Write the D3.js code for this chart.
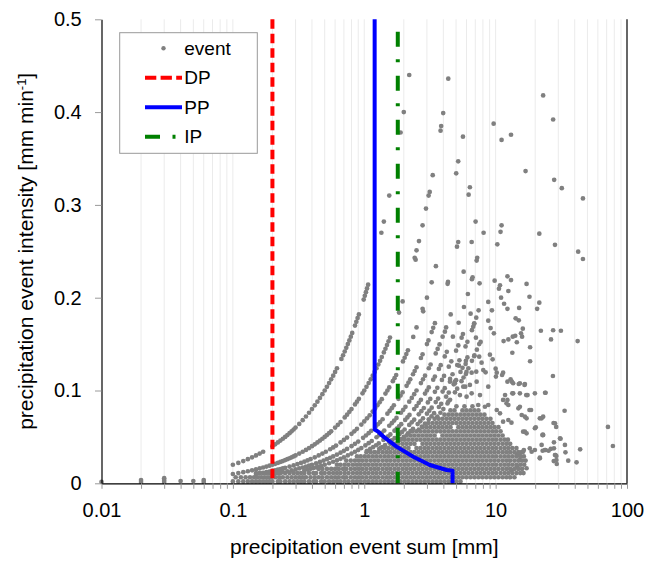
<!DOCTYPE html>
<html lang="en">
<head>
<meta charset="utf-8">
<title>Precipitation events</title>
<script src="https://cdn.jsdelivr.net/npm/d3@7/dist/d3.min.js"></script>
<style>
  body { margin: 0; background: #fff; }
  svg text { font-family: "Liberation Sans", Arial, Helvetica, sans-serif; fill: #000; }
</style>
</head>
<body>
<script>
// events as [sum mm, intensity mm/min]

// tiny events left of 0.1 mm
var eventSmall = [[0.01,0.0015],[0.02,0.0015],[0.02,0.0035],[0.03,0.0015],[0.03,0.0035],[0.03,0.0055],
  [0.04,0.0025],[0.05,0.0025],[0.06,0.0015],[0.06,0.0035]];

// the visible arcs (one per event duration)
var eventArc5 = [[0.10,0.020],[0.11,0.022],[0.12,0.024],[0.13,0.026],[0.14,0.028],[0.15,0.030],[0.16,0.032],[0.17,0.034],
  [0.20,0.040],[0.21,0.042],[0.22,0.044],[0.23,0.046],[0.24,0.048],[0.25,0.050],[0.26,0.052],[0.27,0.054],[0.28,0.056],[0.29,0.058],[0.30,0.060],
  [0.32,0.064],[0.34,0.068],[0.36,0.072],[0.38,0.076],[0.40,0.080],[0.42,0.084],[0.44,0.088],[0.46,0.092],[0.48,0.096],[0.50,0.100],
  [0.52,0.104],[0.54,0.108],[0.56,0.112],[0.58,0.116],[0.60,0.120],[0.62,0.124],
  [0.67,0.134],[0.69,0.138],[0.71,0.142],[0.73,0.146],[0.75,0.150],[0.77,0.154],[0.79,0.158],[0.81,0.162],
  [0.85,0.170],[0.87,0.174],[0.89,0.178],[0.91,0.182],[0.99,0.198],[1.01,0.202],[1.03,0.206],[1.05,0.210],[1.07,0.214],
  [1.35,0.270],[1.41,0.282],[1.55,0.310],[1.89,0.378],[2.00,0.400],[2.20,0.440]];

var eventArc10 = [[0.10,0.010],[0.11,0.011],[0.12,0.012],[0.13,0.013],[0.14,0.014],[0.15,0.015],[0.16,0.016],[0.17,0.017],[0.18,0.018],[0.19,0.019],
  [0.20,0.020],[0.21,0.021],[0.22,0.022],[0.23,0.023],[0.24,0.024],[0.25,0.025],[0.26,0.026],[0.27,0.027],[0.28,0.028],[0.29,0.029],[0.30,0.030],
  [0.32,0.032],[0.34,0.034],[0.36,0.036],[0.38,0.038],[0.40,0.040],[0.42,0.042],[0.44,0.044],[0.46,0.046],[0.48,0.048],[0.50,0.050],
  [0.52,0.052],[0.54,0.054],[0.56,0.056],[0.60,0.060],[0.63,0.063],[0.66,0.066],[0.71,0.071],[0.74,0.074],[0.77,0.077],[0.80,0.080],
  [0.85,0.085],[0.88,0.088],[0.91,0.091],[0.97,0.097],[1.00,0.100],[1.04,0.104],[1.08,0.108],[1.12,0.112],[1.16,0.116],[1.20,0.120],
  [1.24,0.124],[1.28,0.128],[1.32,0.132],[1.36,0.136],[1.41,0.141],[1.45,0.145],[1.49,0.149],[1.53,0.153],[1.57,0.157],
  [1.84,0.184],[1.96,0.196],[2.42,0.243],[2.46,0.241],[2.50,0.251],[2.61,0.261],[2.78,0.278],[2.95,0.296],[3.09,0.310],[3.15,0.314],
  [3.32,0.332],[3.81,0.380],[3.85,0.385],[3.99,0.399],[4.36,0.436]];

var eventArc15 = [[0.15,0.0100],[0.16,0.0107],[0.17,0.0113],[0.18,0.0120],[0.19,0.0127],[0.20,0.0133],[0.21,0.0140],[0.22,0.0147],[0.23,0.0153],
  [0.24,0.0160],[0.25,0.0167],[0.27,0.0180],[0.29,0.0193],[0.31,0.0207],[0.33,0.0220],[0.35,0.0233],[0.37,0.0247],[0.39,0.0260],[0.42,0.0280],
  [0.45,0.0300],[0.48,0.0320],[0.51,0.0340],[0.55,0.0367],[0.58,0.0387],[0.61,0.0407],[0.66,0.0440],[0.70,0.0467],[0.74,0.0493],
  [0.80,0.0533],[0.84,0.0560],[0.88,0.0587],[0.95,0.0633],[1.00,0.0667],[1.05,0.0700],[1.10,0.0733],[1.16,0.0773],[1.21,0.0807],
  [1.26,0.0840],[1.31,0.0873],[1.36,0.0907],[1.45,0.0967],[1.50,0.1000],[1.55,0.1033],[1.65,0.1100],[1.70,0.1133],[1.75,0.1167],
  [1.97,0.1313],[2.03,0.1353],[2.09,0.1393],[2.15,0.1433],[2.36,0.1577],[2.50,0.1680],[2.78,0.1880],[2.81,0.1853],[3.00,0.2000],
  [3.26,0.2166],[3.51,0.2340],[5.01,0.3340]];

var eventArc20 = [[0.20,0.0100],[0.21,0.0105],[0.22,0.0110],[0.23,0.0115],[0.24,0.0120],[0.26,0.0130],[0.28,0.0140],[0.30,0.0150],[0.32,0.0160],
  [0.34,0.0170],[0.36,0.0180],[0.38,0.0190],[0.40,0.0200],[0.43,0.0215],[0.46,0.0230],[0.49,0.0245],[0.52,0.0260],[0.55,0.0275],[0.58,0.0290],
  [0.62,0.0310],[0.66,0.0330],[0.70,0.0350],[0.74,0.0370],[0.80,0.0400],[0.85,0.0425],[0.90,0.0450],[0.98,0.0490],[1.03,0.0515],[1.08,0.0540],
  [1.13,0.0565],[1.22,0.0610],[1.27,0.0635],[1.32,0.0660],[1.38,0.0690],[1.50,0.0750],[1.56,0.0780],[1.62,0.0810],[1.68,0.0840],
  [1.82,0.0910],[1.89,0.0945],[1.96,0.0980],[2.10,0.1050],[2.17,0.1085],[2.24,0.1120],[2.35,0.1175],[2.42,0.1210],[2.50,0.1250],
  [2.70,0.1350],[2.78,0.1390],[3.00,0.1500],[3.08,0.1540],[3.26,0.1630],[3.35,0.1675],[3.45,0.1725],[4.31,0.2150],[4.34,0.2170],
  [6.23,0.3110],[6.37,0.3190]];

var eventArc25 = [[0.35,0.0140],[0.37,0.0148],[0.39,0.0156],[0.41,0.0164],[0.43,0.0172],[0.45,0.0180],[0.47,0.0188],[0.50,0.0200],
  [0.54,0.0216],[0.58,0.0232],[0.62,0.0248],[0.66,0.0264],[0.70,0.0280],[0.75,0.0300],[0.80,0.0320],[0.85,0.0340],[0.90,0.0360],[0.95,0.0380],
  [1.02,0.0408],[1.08,0.0432],[1.14,0.0456],[1.24,0.0496],[1.30,0.0520],[1.36,0.0544],[1.42,0.0568],[1.55,0.0620],[1.62,0.0648],
  [1.69,0.0676],[1.76,0.0704],[1.90,0.0760],[1.98,0.0792],[2.06,0.0824],[2.20,0.0880],[2.30,0.0920],[2.40,0.0960],[2.50,0.1000],
  [2.70,0.1080],[2.80,0.1120],[2.90,0.1160],[3.10,0.1240],[3.20,0.1280],[3.50,0.1400],[3.62,0.1448],[3.74,0.1496],[3.95,0.1580],
  [4.11,0.1634],[4.20,0.1680],[4.55,0.1820]];

var eventArc30 = [[1.05,0.0350],[1.11,0.0370],[1.17,0.0390],[1.23,0.0410],[1.29,0.0430],[1.40,0.0467],[1.46,0.0487],[1.52,0.0507],[1.58,0.0527],
  [1.70,0.0567],[1.77,0.0590],[1.84,0.0613],[1.91,0.0637],[2.05,0.0683],[2.13,0.0710],[2.21,0.0737],[2.40,0.0800],[2.50,0.0833],
  [2.60,0.0867],[2.70,0.0900],[2.90,0.0967],[3.00,0.1000],[3.10,0.1033],[3.35,0.1117],[3.45,0.1150],[3.70,0.1233],[3.82,0.1273],
  [4.10,0.1367],[4.25,0.1417],[4.73,0.1580]];

var eventArc35 = [[1.30,0.0371],[1.37,0.0391],[1.44,0.0411],[1.55,0.0443],[1.62,0.0463],[1.70,0.0486],[1.85,0.0529],[1.94,0.0554],[2.03,0.0580],
  [2.20,0.0629],[2.30,0.0657],[2.40,0.0686],[2.60,0.0743],[2.72,0.0777],[2.84,0.0811],[3.05,0.0871],[3.18,0.0909],[3.45,0.0986],
  [3.60,0.1029],[3.90,0.1114],[4.05,0.1157],[4.40,0.1257],[4.60,0.1314],[5.00,0.1429],[5.20,0.1486],[5.51,0.1569],[5.64,0.1609]];

var eventArc40 = [[1.80,0.0450],[1.90,0.0475],[2.00,0.0500],[2.15,0.0538],[2.25,0.0563],[2.35,0.0588],[2.55,0.0638],[2.67,0.0668],[2.80,0.0700],
  [3.00,0.0750],[3.13,0.0783],[3.26,0.0815],[3.50,0.0875],[3.65,0.0913],[3.95,0.0988],[4.10,0.1025],[4.50,0.1125],[4.70,0.1175],
  [5.10,0.1275],[5.30,0.1325],[5.90,0.1475],[6.10,0.1525],[6.60,0.1650],[6.75,0.1688],[6.87,0.1718]];

var eventArc45 = [[2.60,0.0578],[2.75,0.0611],[2.90,0.0644],[3.10,0.0689],[3.25,0.0722],[3.40,0.0756],[3.70,0.0822],[3.85,0.0856],
  [4.20,0.0933],[4.40,0.0978],[4.80,0.1067],[5.00,0.1111],[5.40,0.1200],[5.60,0.1244],[5.94,0.1320],[6.10,0.1356]];

var eventArc50 = [[3.60,0.0720],[3.80,0.0760],[4.00,0.0800],[4.30,0.0860],[4.50,0.0900],[4.90,0.0980],[5.10,0.1020],[5.50,0.1100],
  [5.70,0.1140],[6.00,0.1200],[6.20,0.1240],[6.60,0.1320],[6.90,0.1380],[7.20,0.1440],[7.50,0.1500]];

// the dense cloud, row by row: one intensity and the sums found at it
var cloudIntensity = [0.002, 0.0065, 0.011, 0.0155, 0.020, 0.0245, 0.029, 0.0335, 0.038, 0.0425,
  0.047, 0.0515, 0.056, 0.0605, 0.065, 0.0695, 0.074, 0.0785, 0.083];
var cloudSums = [
  [0.10,0.11,0.12,0.13,0.14,0.15,0.16,0.17,0.18,0.19,0.20,0.22,0.23,0.25,0.27,0.29,0.31,0.33,0.35,0.38,0.41,0.43,0.47,0.50,0.54,0.58,0.62,0.66,0.71,0.76,0.82,0.88,0.94,1.01,1.08,1.16,1.24,1.33,1.43,1.53,1.64,1.76,1.89,2.03,2.17,2.33,2.50,2.68,2.88,3.08,3.31,3.55,3.80,4.08,4.38,4.69,5.03,5.40],
  [0.105,0.115,0.125,0.135,0.145,0.155,0.165,0.175,0.185,0.195,0.21,0.225,0.24,0.26,0.28,0.30,0.32,0.34,0.36,0.39,0.42,0.45,0.48,0.52,0.56,0.60,0.64,0.69,0.73,0.79,0.85,0.91,0.97,1.04,1.12,1.20,1.28,1.38,1.48,1.58,1.70,1.82,1.96,2.10,2.25,2.41,2.59,2.78,2.98,3.19,3.43,3.68,3.94,4.23,4.53,4.86,5.21,5.59,5.99,6.43,6.90,7.40,7.93,8.51,9.13,9.79,10.5,11.3,12.1,12.9,13.9],
  [0.15,0.16,0.17,0.18,0.19,0.20,0.22,0.23,0.25,0.27,0.29,0.31,0.33,0.35,0.38,0.41,0.43,0.47,0.50,0.54,0.58,0.62,0.66,0.71,0.76,0.82,0.88,0.94,1.01,1.08,1.16,1.24,1.33,1.43,1.53,1.64,1.76,1.89,2.03,2.17,2.33,2.50,2.68,2.88,3.08,3.31,3.55,3.80,4.08,4.38,4.69,5.03,5.40,5.79,6.21,6.66,7.15,7.66,8.22,8.82,9.46,10.1,10.9,11.7,12.5,13.4,14.4,15.4,16.3],
  [0.45,0.48,0.52,0.56,0.60,0.64,0.69,0.73,0.79,0.85,0.91,0.97,1.04,1.12,1.20,1.28,1.38,1.48,1.58,1.70,1.82,1.96,2.10,2.25,2.41,2.59,2.78,2.98,3.19,3.43,3.68,3.94,4.23,4.53,4.86,5.21,5.59,5.99,6.43,6.90,7.40,7.93,8.51,9.13,9.79,10.5,11.3,12.1,12.9,13.9,14.9,15.9],
  [0.62,0.66,0.71,0.76,0.82,0.88,0.94,1.01,1.08,1.16,1.24,1.33,1.43,1.53,1.64,1.76,1.89,2.03,2.17,2.33,2.50,2.68,2.88,3.08,3.31,3.55,3.80,4.08,4.38,4.69,5.03,5.40,5.79,6.21,6.66,7.15,7.66,8.22,8.82,9.46,10.1,10.9,11.7,12.5,13.4,14.4,15.4,16.5],
  [0.73,0.79,0.85,0.91,0.97,1.04,1.12,1.20,1.28,1.38,1.48,1.58,1.70,1.82,1.96,2.10,2.25,2.41,2.59,2.78,2.98,3.19,3.43,3.68,3.94,4.23,4.53,4.86,5.21,5.59,5.99,6.43,6.90,7.40,7.93,8.51,9.13,9.79,10.5,11.3,12.1,12.9,13.9,14.9,15.9,16.9],
  [0.88,0.94,1.01,1.08,1.16,1.24,1.33,1.43,1.53,1.64,1.76,1.89,2.03,2.17,2.33,2.50,2.68,2.88,3.08,3.31,3.55,3.80,4.08,4.38,4.69,5.03,5.40,5.79,6.21,6.66,7.15,7.66,8.22,8.82,9.46,10.1,10.9,11.7,12.5,13.4,14.4,15.4,16.4],
  [1.04,1.12,1.20,1.28,1.38,1.48,1.58,1.70,1.82,1.96,2.10,2.25,2.41,2.59,2.78,2.98,3.19,3.43,3.68,3.94,4.23,4.53,4.86,5.21,5.59,5.99,6.43,6.90,7.40,7.93,8.51,9.13,9.79,10.5,11.3,12.1,12.9,13.9,14.9,15.8],
  [1.33,1.43,1.53,1.64,1.76,1.89,2.03,2.17,2.50,2.68,2.88,3.08,3.31,3.55,3.80,4.08,4.38,4.69,5.03,5.40,5.79,6.21,6.66,7.15,7.66,8.22,8.82,9.46,10.1,10.9,11.7,12.5,13.4,14.4],
  [1.58,1.70,1.82,1.96,2.10,2.25,2.41,2.78,2.98,3.19,3.43,3.68,3.94,4.23,4.53,4.86,5.21,5.59,5.99,6.43,6.90,7.40,7.93,8.51,9.13,9.79,10.5,11.3,12.1,12.9],
  [1.89,2.03,2.17,2.33,2.50,2.68,2.88,3.08,3.31,3.55,3.80,4.08,4.38,4.69,5.03,5.40,5.79,6.21,6.66,7.15,7.66,8.22,8.82,9.46,10.1,10.9,11.7,12.4],
  [2.10,2.25,2.41,2.59,2.78,2.98,3.19,3.43,3.94,4.23,4.53,4.86,5.21,5.59,5.99,6.43,6.90,7.40,7.93,8.51,9.13,9.79,10.5,11.3],
  [2.33,2.50,2.68,2.88,3.08,3.31,3.55,3.80,4.08,4.38,4.69,5.03,5.40,5.79,6.21,6.66,7.15,7.66,8.22,8.82,9.46,10.1,10.9],
  [2.78,2.98,3.19,3.43,3.68,3.94,4.23,4.53,5.21,5.59,5.99,6.43,6.90,7.40,7.93,8.51,9.13,9.79,10.5],
  [3.08,3.31,3.55,3.80,4.08,4.38,4.69,5.03,5.40,5.79,6.21,6.66,7.15,7.66,8.22,8.82,9.46],
  [3.43,3.68,3.94,4.23,4.53,4.86,5.21,5.59,5.99,6.43,6.90,7.40,7.93,8.51,9.13],
  [4.08,4.38,4.69,5.03,5.40,5.79,6.21,6.66,7.15,7.66,8.22],
  [4.53,4.86,5.59,5.99,6.43,6.90,7.40],
  [5.03,5.79,6.66]
];

// loose events above and right of the cloud
var eventLoose = [[23.0,0.418],[9.66,0.3875],[27.4,0.392],[5.64,0.3735],[13.1,0.3756],[11.1,0.370],[5.19,0.347],[16.9,0.3365],
  [27.9,0.327],[31.9,0.318],[46.2,0.307],[7.04,0.282],[8.1,0.270],[11.1,0.278],[10.9,0.271],[21.5,0.269],[28.3,0.257],[5.19,0.260],
  [5.08,0.255],[6.57,0.260],[10.3,0.2575],[7.24,0.243],[7.17,0.240],[42.5,0.2496],[46.2,0.2417],[5.71,0.228],[6.68,0.222],[6.6,0.220],
  [12.3,0.223],[13.1,0.219],[7.55,0.2155],[9.83,0.2183],[10.8,0.2134],[10.6,0.2097],[17.2,0.2148],[12.5,0.2072],[6.15,0.204],[11.0,0.200],
  [18.1,0.201],[8.79,0.1954],[11.6,0.1935],[21.5,0.1946],[20.7,0.188],[5.74,0.190],[7.42,0.1864],[9.37,0.1864],[12.3,0.188],[15.1,0.189],
  [6.45,0.1828],[7.12,0.1785],[8.79,0.1752],[14.2,0.1778],[15.0,0.1756],[5.23,0.173],[6.87,0.1724],[9.16,0.1673],[22.1,0.1644],
  [27.4,0.1649],[31.4,0.1644],[9.7,0.1616],[16.1,0.1666],[15.6,0.1616],[15.9,0.158],[7.08,0.1569],[7.69,0.1523],[14.1,0.159],
  [13.5,0.158],[11.5,0.1533],[12.5,0.155],[14.5,0.152],[26.4,0.155],[42.1,0.1533],[18.3,0.1466],[13.4,0.1407],[6.87,0.137],[7.5,0.1364],
  [9.05,0.1386],[9.49,0.1336],[7.82,0.130],[18.3,0.1315],[5.91,0.1286],[5.26,0.1267],[10.0,0.1235],[8.05,0.122],[8.39,0.1196],
  [6.57,0.1192],[7.12,0.1203],[5.94,0.1178],[11.4,0.1192],[11.2,0.1167],[13.0,0.112],[27.3,0.1156],[10.2,0.1192],[10.05,0.115],
  [4.49,0.1095],[4.9,0.1078],[5.67,0.1041],[6.37,0.106],[7.17,0.1095],[8.79,0.1041],[12.3,0.1095],[13.6,0.1078],[15.3,0.1078],[16.7,0.107],
  [5.35,0.0951],[6.01,0.0933],[6.57,0.097],[7.6,0.0951],[11.8,0.0951],[12.3,0.0898],[13.6,0.097],[15.3,0.097],[17.5,0.0951],[19.9,0.097],
  [4.36,0.088],[7.37,0.0844],[8.29,0.0825],[8.79,0.0844],[10.2,0.079],[10.8,0.0754],[11.4,0.0898],[12.1,0.0862],[14.9,0.0808],[18.6,0.079],
  [15.8,0.0736],[16.7,0.0718],[11.4,0.0664],[12.5,0.0682],[13.2,0.0653],[22.4,0.070],[19.9,0.0593],[28.3,0.0647],[16.2,0.0556],[17.2,0.0539],
  [23.0,0.052],[30.9,0.0485],[22.4,0.0413],[23.7,0.0359],[19.9,0.0359],[18.8,0.034],[18.2,0.0377],[16.2,0.034],[15.3,0.0323],[14.5,0.0305],
  [21.7,0.0269],[28.3,0.0305],[29.0,0.0251],[17.2,0.0162],[15.3,0.0251],[14.5,0.0179],[13.2,0.0144],
  [24.0,0.0976],[33.5,0.0782],[23.0,0.0718],[21.7,0.070],[27.6,0.065],[28.9,0.0607],[22.9,0.0524],[31.2,0.048],[27.8,0.0442],[33.7,0.0413],
  [71.6,0.0607],[78.1,0.0402],[44.0,0.0366],[22.8,0.0351],[24.0,0.0359],[25.3,0.0351],[26.3,0.037],[27.8,0.0377],[34.0,0.0334],[21.7,0.0276],
  [28.6,0.0305],[29.0,0.0294],[27.7,0.024],[29.2,0.0208],[35.7,0.0244],[41.3,0.0226],
  [4.88,0.1095],[5.87,0.1041],[13.3,0.1095],[15.0,0.107],[17.1,0.0951],[23.8,0.0976],[13.4,0.097],[16.6,0.106],[12.5,0.0844],[15.3,0.0825],
  [18.1,0.079],[20.2,0.0603],[22.7,0.052],[16.7,0.0556],[17.2,0.070],[16.4,0.0359]];

// threshold lines
var dpSum = 0.2;
var ipSum = 1.8;
var ppSum = [1.2, 1.2, 1.28, 1.4, 1.76, 2.36, 3.16, 4.24, 4.7, 4.7];
var ppIntensity = [0.5, 0.058, 0.0556, 0.0502, 0.0395, 0.0287, 0.0197, 0.0143, 0.0136, 0];

// axes
var xTicks = [0.01,0.02,0.03,0.04,0.05,0.06,0.07,0.08,0.09,0.1,0.2,0.3,0.4,0.5,0.6,0.7,0.8,0.9,
  1,2,3,4,5,6,7,8,9,10,20,30,40,50,60,70,80,90,100];
var xMajor = [0.01, 0.1, 1, 10, 100];
var xMajorLabels = ["0.01", "0.1", "1", "10", "100"];
var yTicks = [0, 0.1, 0.2, 0.3, 0.4, 0.5];
var yTickLabels = ["0", "0.1", "0.2", "0.3", "0.4", "0.5"];
var legendLabels = ["event", "DP", "PP", "IP"];

var width = 656, height = 562;
var plot = {left: 101.5, right: 627, top: 19.3, bottom: 483.3};

var svg = d3.select("body").append("svg")
    .attr("width", width)
    .attr("height", height);

var xScale = d3.scaleLog().domain([0.01, 100]).range([plot.left, plot.right]);
var yScale = d3.scaleLinear().domain([0, 0.5]).range([plot.bottom, plot.top]);

// vertical grid
svg.append("g")
    .selectAll("line")
    .data(xTicks.filter(function(d) { return d > 0.01 && d < 100; }))
    .enter().append("line")
    .attr("x1", function(d) { return xScale(d); })
    .attr("x2", function(d) { return xScale(d); })
    .attr("y1", plot.top)
    .attr("y2", plot.bottom)
    .attr("stroke", "#ebebeb")
    .attr("stroke-width", 1);

// collect all events
var events = [].concat(eventSmall, eventArc5, eventArc10, eventArc15, eventArc20, eventArc25,
  eventArc30, eventArc35, eventArc40, eventArc45, eventArc50, eventLoose);
cloudSums.forEach(function(row, i) {
  row.forEach(function(s) { events.push([s, cloudIntensity[i]]); });
});

svg.append("g")
    .selectAll("circle")
    .data(events)
    .enter().append("circle")
    .attr("cx", function(d) { return xScale(d[0]); })
    .attr("cy", function(d) { return yScale(d[1]); })
    .attr("r", 2.35)
    .attr("fill", "#808080");

// DP
svg.append("line")
    .attr("x1", xScale(dpSum)).attr("x2", xScale(dpSum))
    .attr("y1", yScale(0.5)).attr("y2", yScale(0))
    .attr("stroke", "#ff0000")
    .attr("stroke-width", 4)
    .attr("stroke-dasharray", "9.5,5");

// IP
svg.append("line")
    .attr("x1", xScale(ipSum)).attr("x2", xScale(ipSum))
    .attr("y1", yScale(0.5)).attr("y2", yScale(0))
    .attr("stroke", "#008000")
    .attr("stroke-width", 4)
    .attr("stroke-dasharray", "15,12.5,3,13.5")
    .attr("stroke-dashoffset", 31.6);

// PP
var ppLine = d3.line()
    .x(function(d) { return xScale(d[0]); })
    .y(function(d) { return yScale(d[1]); });
svg.append("path")
    .datum(ppSum.map(function(s, i) { return [s, ppIntensity[i]]; }))
    .attr("d", ppLine)
    .attr("fill", "none")
    .attr("stroke", "#0000ff")
    .attr("stroke-width", 4)
    .attr("stroke-linejoin", "round");

// axes
var xAxis = d3.axisBottom(xScale)
    .tickValues(xTicks)
    .tickSize(5.5)
    .tickSizeOuter(0)
    .tickPadding(13.7)
    .tickFormat(function(d) {
      var k = xMajor.indexOf(d);
      return k >= 0 ? xMajorLabels[k] : "";
    });

var yAxis = d3.axisLeft(yScale)
    .tickValues(yTicks)
    .tickSize(6.5)
    .tickSizeOuter(0)
    .tickPadding(13.3)
    .tickFormat(function(d, i) { return yTickLabels[i]; });

var gx = svg.append("g")
    .attr("transform", "translate(0," + plot.bottom + ")")
    .call(xAxis);
var gy = svg.append("g")
    .attr("transform", "translate(" + plot.left + ",0)")
    .call(yAxis);

[gx, gy].forEach(function(g) {
  g.select(".domain").attr("stroke", "#000").attr("stroke-width", 1.2);
  g.selectAll(".tick line").attr("stroke", "#9a9a9a");
  g.selectAll(".tick text")
    .attr("font-size", "20px")
    .attr("font-family", "'Liberation Sans', Arial, sans-serif")
    .attr("fill", "#000");
});

// right frame line
svg.append("line")
    .attr("x1", plot.right).attr("x2", plot.right)
    .attr("y1", plot.top).attr("y2", plot.bottom)
    .attr("stroke", "#000")
    .attr("stroke-width", 1.2);

// axis titles
svg.append("text")
    .attr("x", (plot.left + plot.right) / 2)
    .attr("y", 554)
    .attr("text-anchor", "middle")
    .attr("font-size", "21px")
    .text("precipitation event sum [mm]");

var yTitle = svg.append("text")
    .attr("transform", "translate(33," + ((plot.top + plot.bottom) / 2) + ") rotate(-90)")
    .attr("text-anchor", "middle")
    .attr("font-size", "21px");
yTitle.append("tspan").text("precipitation event intensity [mm min");
yTitle.append("tspan").attr("font-size", "13px").attr("dy", "-7").text("-1");
yTitle.append("tspan").attr("dy", "7").text("]");

// legend
var legend = svg.append("g");
legend.append("rect")
    .attr("x", 119.7).attr("y", 32.7)
    .attr("width", 137.6).attr("height", 120.6)
    .attr("fill", "#fff")
    .attr("stroke", "#999")
    .attr("stroke-width", 1);

var legendY = [48.3, 77.7, 107.3, 136.7];

legend.append("circle")
    .attr("cx", 163.5).attr("cy", legendY[0]).attr("r", 2.2)
    .attr("fill", "#808080");

legend.append("line")
    .attr("x1", 145).attr("x2", 182).attr("y1", legendY[1]).attr("y2", legendY[1])
    .attr("stroke", "#ff0000").attr("stroke-width", 4).attr("stroke-dasharray", "11.3,4.3");
legend.append("line")
    .attr("x1", 145).attr("x2", 182).attr("y1", legendY[2]).attr("y2", legendY[2])
    .attr("stroke", "#0000ff").attr("stroke-width", 4);
legend.append("line")
    .attr("x1", 145).attr("x2", 182).attr("y1", legendY[3]).attr("y2", legendY[3])
    .attr("stroke", "#008000").attr("stroke-width", 4).attr("stroke-dasharray", "15,12.5,3,13.5");

legend.selectAll("text")
    .data(legendLabels)
    .enter().append("text")
    .attr("x", 184.3)
    .attr("y", function(d, i) { return legendY[i]; })
    .attr("dy", "0.35em")
    .attr("font-size", "19px")
    .text(function(d) { return d; });
</script>
</body>
</html>
